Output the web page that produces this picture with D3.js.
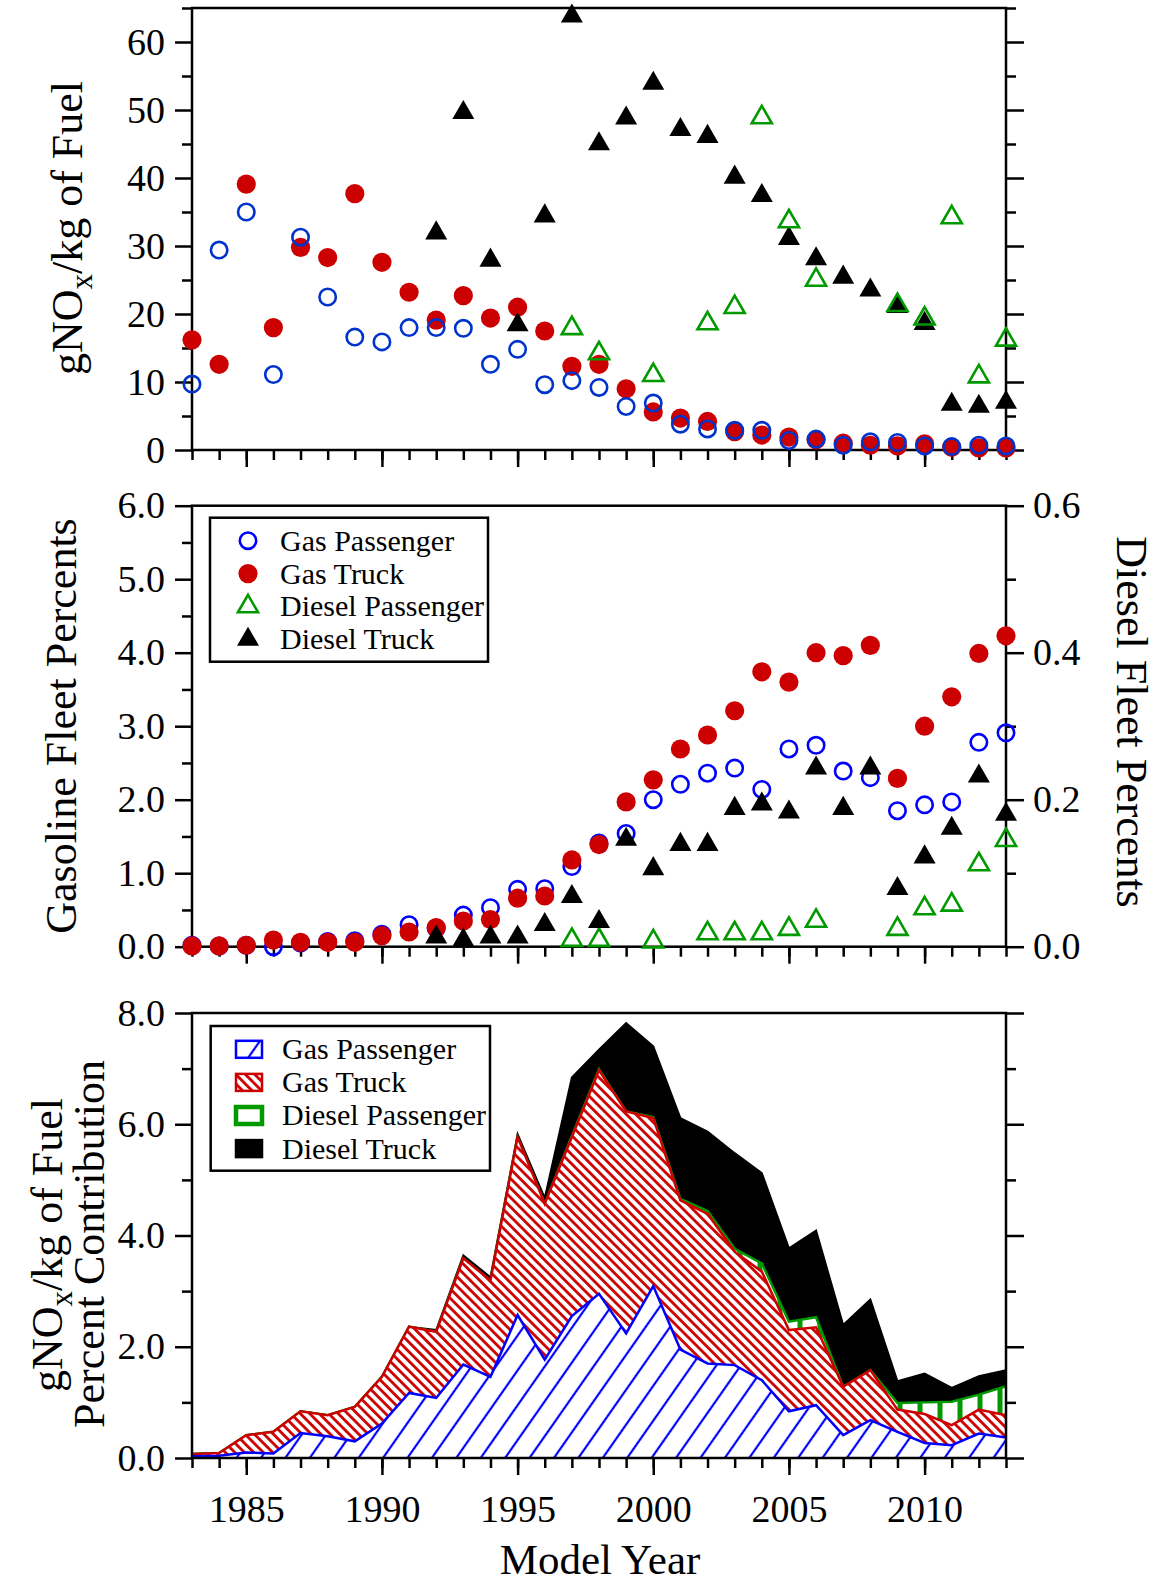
<!DOCTYPE html>
<html>
<head>
<meta charset="utf-8">
<script src="https://cdn.jsdelivr.net/npm/d3@7"></script>
<style>
  body { margin: 0; background: #fff; }
  svg { display: block; }
  svg text { font-family: 'Liberation Serif', 'Times New Roman', Times, serif; }
</style>
</head>
<body>
<svg id="chart" width="1159" height="1585"></svg>
<script>
// ---- data ---------------------------------------------------------------
const years = [1983,1984,1985,1986,1987,1988,1989,1990,1991,1992,1993,1994,1995,1996,1997,1998,
               1999,2000,2001,2002,2003,2004,2005,2006,2007,2008,2009,2010,2011,2012,2013];
const labelYears = [1985,1990,1995,2000,2005,2010];

// emission factors, gNOx per kg of fuel
const gasPassNOx   = [9.7,29.4,35.0,11.1,31.3,22.5,16.6,15.9,18.0,18.0,17.9,12.6,14.8,9.6,10.2,9.2,
                      6.4,6.9,3.8,3.1,2.9,2.9,1.4,1.6,0.7,1.2,1.1,0.6,0.5,0.7,0.6];
const gasTruckNOx  = [16.2,12.6,39.1,18.0,29.8,28.3,37.7,27.6,23.2,19.1,22.7,19.4,21.0,17.5,12.3,12.6,
                      9.0,5.6,4.7,4.2,2.7,2.2,1.9,1.5,1.0,0.7,0.6,0.9,0.4,0.3,0.3];
const dieselPassNOx  = [null,null,null,null,null,null,null,null,null,null,null,null,null,null,
                        17.9,14.2,null,11.0,null,18.6,21.0,48.9,33.6,25.0,null,null,21.3,19.3,34.2,10.8,16.2];
const dieselTruckNOx = [null,null,null,null,null,null,null,null,null,
                        31.9,49.6,27.9,18.4,34.4,63.8,45.0,48.8,53.9,47.1,46.1,40.1,37.4,31.1,28.1,
                        25.4,23.5,21.1,18.6,6.7,6.4,7.0];

// fleet percents (gasoline on left axis, diesel on right axis)
const gasPassFleet  = [0.02,0.01,0.02,0.00,0.05,0.07,0.08,0.17,0.30,0.25,0.43,0.53,0.78,0.79,1.09,1.41,
                       1.54,2.00,2.21,2.36,2.43,2.14,2.69,2.74,2.39,2.30,1.85,1.93,1.97,2.78,2.91];
const gasTruckFleet = [0.01,0.01,0.02,0.09,0.06,0.06,0.06,0.15,0.20,0.26,0.35,0.37,0.66,0.69,1.18,1.39,
                       1.97,2.27,2.69,2.88,3.21,3.74,3.60,4.00,3.96,4.10,2.29,3.00,3.40,3.99,4.23];
const dieselPassFleet  = [null,null,null,null,null,null,null,null,null,null,null,null,null,null,
                          0.009,0.009,null,0.007,null,0.018,0.018,0.018,0.024,0.035,null,null,
                          0.024,0.052,0.057,0.112,0.145];
const dieselTruckFleet = [null,null,null,null,null,null,null,null,null,
                          0.013,0.009,0.013,0.013,0.030,0.068,0.034,0.146,0.106,0.139,0.139,0.188,
                          0.194,0.183,0.243,0.188,0.243,0.079,0.122,0.161,0.232,0.180];

// percent contribution to gNOx/kg of fuel, one layer per class
const gasPassPct    = [0.03,0.04,0.10,0.08,0.45,0.39,0.30,0.62,1.17,1.08,1.68,1.46,2.57,1.77,2.55,2.95,
                       2.24,3.09,1.95,1.70,1.67,1.40,0.84,0.95,0.41,0.68,0.47,0.27,0.23,0.44,0.37];
const gasTruckPct   = [0.04,0.05,0.31,0.39,0.39,0.38,0.62,0.84,1.19,1.19,1.91,1.73,3.20,2.80,3.22,4.02,
                       3.99,3.02,2.68,2.69,2.04,1.95,1.46,1.40,0.87,0.90,0.40,0.52,0.36,0.43,0.40];
const dieselPassPct = [0,0,0,0,0,0,0,0,0,0,0,0,0,0,0.02,0.02,
                       0,0.02,0.03,0.05,0.05,0.15,0.15,0.18,0,0,0.12,0.21,0.42,0.27,0.52];
const dieselTruckPct= [0,0,0,0,0,0,0,0,0,0.03,0.05,0.06,0.05,0.10,1.05,0.35,
                       1.59,1.27,1.45,1.43,1.72,1.62,1.32,1.56,1.11,1.27,0.39,0.52,0.25,0.33,0.29];

const nameGP = "Gas Passenger", nameGT = "Gas Truck",
      nameDP = "Diesel Passenger", nameDT = "Diesel Truck";

const topTicks   = [0,10,20,30,40,50,60];
const topMinor   = [5,15,25,35,45,55,65];
const midTicks   = [0,1,2,3,4,5,6];
const midMinor   = [0.5,1.5,2.5,3.5,4.5,5.5];
const rightTicks = [0,0.2,0.4,0.6];
const rightMinor = [0.1,0.3,0.5];
const botTicks   = [0,2,4,6,8];
const botMinor   = [1,3,5,7];

// ---- layout -------------------------------------------------------------
const FONT = "'Liberation Serif', 'Times New Roman', Times, serif";
const svg = d3.select("#chart");
const L = 192, R = 1006;
const P1 = {top: 8, bottom: 450};
const P2 = {top: 505.7, bottom: 946.7};
const P3 = {top: 1013, bottom: 1458};

const BLUE1 = "#0033cc", BLUE = "#0000ff", RED = "#cc0000", GREEN = "#009900";

const x = d3.scaleLinear().domain([1983, 2013]).range([L, R]);
const y1 = d3.scaleLinear().domain([0, 65]).range([P1.bottom, P1.top]);
const y2 = d3.scaleLinear().domain([0, 6]).range([P2.bottom, P2.top]);
const y2r = d3.scaleLinear().domain([0, 0.6]).range([P2.bottom, P2.top]);
const y3 = d3.scaleLinear().domain([0, 8]).range([P3.bottom, P3.top]);

// ---- patterns -----------------------------------------------------------
const defs = svg.append("defs");
function stripePattern(id, period, angle, color, width) {
  const p = defs.append("pattern").attr("id", id)
    .attr("patternUnits", "userSpaceOnUse")
    .attr("width", period).attr("height", period)
    .attr("patternTransform", `rotate(${angle})`);
  p.append("rect").attr("width", period).attr("height", period).attr("fill", "#fff");
  p.append("line").attr("x1", period / 2).attr("x2", period / 2)
    .attr("y1", -1).attr("y2", period + 1)
    .attr("stroke", color).attr("stroke-width", width);
}
stripePattern("hatchGP", 20, 35, BLUE, 2.2);
stripePattern("hatchGT", 6.7, -45, RED, 2.8);
{
  const p = defs.append("pattern").attr("id", "hatchDP")
    .attr("patternUnits", "userSpaceOnUse").attr("width", 20).attr("height", 20);
  p.append("rect").attr("width", 20).attr("height", 20).attr("fill", "#fff");
  p.append("rect").attr("x", 0).attr("width", 2.5).attr("height", 20).attr("fill", GREEN);
  p.append("rect").attr("x", 17.5).attr("width", 2.5).attr("height", 20).attr("fill", GREEN);
}

// ---- axes helpers -------------------------------------------------------
function styleAxis(g, size) {
  g.attr("font-family", FONT).attr("font-size", size);
  g.select(".domain").remove();
  g.selectAll(".tick line").attr("stroke", "#000").attr("stroke-width", 2.5);
  g.selectAll(".tick text").attr("fill", "#000");
  return g;
}
function xAxis(yPos, withLabels) {
  svg.append("g").attr("transform", `translate(0,${yPos})`)
    .call(d3.axisBottom(x).tickValues(years).tickSize(10).tickFormat(""))
    .call(g => styleAxis(g, 38));
  svg.append("g").attr("transform", `translate(0,${yPos})`)
    .call(d3.axisBottom(x).tickValues(labelYears).tickSize(17).tickPadding(20)
      .tickFormat(withLabels ? d3.format("d") : ""))
    .call(g => styleAxis(g, 38));
}
function yAxis(scale, majors, minors, fmt, side) {
  const ax = side === "left" ? d3.axisLeft : d3.axisRight;
  const xPos = side === "left" ? L : R;
  svg.append("g").attr("transform", `translate(${xPos},0)`)
    .call(ax(scale).tickValues(minors).tickSize(10).tickFormat(""))
    .call(g => styleAxis(g, 38));
  svg.append("g").attr("transform", `translate(${xPos},0)`)
    .call(ax(scale).tickValues(majors).tickSize(side === "left" ? 17 : 18)
      .tickPadding(side === "left" ? 10 : 9).tickFormat(fmt ? fmt : ""))
    .call(g => styleAxis(g, 38));
}
function frame(p) {
  svg.append("rect").attr("x", L).attr("y", p.top)
    .attr("width", R - L).attr("height", p.bottom - p.top)
    .attr("fill", "none").attr("stroke", "#000").attr("stroke-width", 2.5);
}

// ---- marker helpers -----------------------------------------------------
const tri = d3.symbol(d3.symbolTriangle, 210);
const triOpen = d3.symbol(d3.symbolTriangle, 175);
function drawSeries(g, vals, scale, kind, color) {
  const pts = years.map((yr, i) => ({yr, v: vals[i]})).filter(d => d.v !== null);
  const sel = g.append("g");
  if (kind === "openCircle") {
    sel.selectAll("circle").data(pts).join("circle")
      .attr("cx", d => x(d.yr)).attr("cy", d => scale(d.v)).attr("r", 8.2)
      .attr("fill", "none").attr("stroke", color).attr("stroke-width", 2.6);
  } else if (kind === "dot") {
    sel.selectAll("circle").data(pts).join("circle")
      .attr("cx", d => x(d.yr)).attr("cy", d => scale(d.v)).attr("r", 9.6)
      .attr("fill", color);
  } else if (kind === "openTri") {
    sel.selectAll("path").data(pts).join("path")
      .attr("transform", d => `translate(${x(d.yr)},${scale(d.v)})`)
      .attr("d", triOpen).attr("fill", "none").attr("stroke", color).attr("stroke-width", 2.6);
  } else {
    sel.selectAll("path").data(pts).join("path")
      .attr("transform", d => `translate(${x(d.yr)},${scale(d.v)})`)
      .attr("d", tri).attr("fill", color);
  }
}
function markerAt(g, kind, color, cx, cy) {
  if (kind === "openCircle") g.append("circle").attr("cx", cx).attr("cy", cy).attr("r", 8.2)
    .attr("fill", "none").attr("stroke", color).attr("stroke-width", 2.6);
  else if (kind === "dot") g.append("circle").attr("cx", cx).attr("cy", cy).attr("r", 9.6).attr("fill", color);
  else if (kind === "openTri") g.append("path").attr("transform", `translate(${cx},${cy})`)
    .attr("d", triOpen).attr("fill", "none").attr("stroke", color).attr("stroke-width", 2.6);
  else g.append("path").attr("transform", `translate(${cx},${cy})`).attr("d", tri).attr("fill", color);
}

// ---- panel 1: emission factors -----------------------------------------
frame(P1);
xAxis(P1.bottom, false);
yAxis(y1, topTicks, topMinor, d3.format("d"), "left");
yAxis(y1, topTicks, topMinor, null, "right");
const g1 = svg.append("g");
drawSeries(g1, gasTruckNOx, y1, "dot", RED);
drawSeries(g1, gasPassNOx, y1, "openCircle", BLUE1);
drawSeries(g1, dieselTruckNOx, y1, "tri", "#000");
drawSeries(g1, dieselPassNOx, y1, "openTri", GREEN);

// ---- panel 2: fleet percents -------------------------------------------
frame(P2);
xAxis(P2.bottom, false);
yAxis(y2, midTicks, midMinor, d3.format(".1f"), "left");
yAxis(y2r, rightTicks, rightMinor, d3.format(".1f"), "right");
const g2 = svg.append("g");
drawSeries(g2, gasPassFleet, y2, "openCircle", BLUE);
drawSeries(g2, gasTruckFleet, y2, "dot", RED);
drawSeries(g2, dieselPassFleet, y2r, "openTri", GREEN);
drawSeries(g2, dieselTruckFleet, y2r, "tri", "#000");

// legend for the marker panels
{
  const lg = svg.append("g");
  lg.append("rect").attr("x", 210).attr("y", 517.7).attr("width", 278).attr("height", 144)
    .attr("fill", "#fff").attr("stroke", "#000").attr("stroke-width", 2.5);
  const items = [[nameGP, "openCircle", BLUE], [nameGT, "dot", RED],
                 [nameDP, "openTri", GREEN], [nameDT, "tri", "#000"]];
  items.forEach(([name, kind, color], i) => {
    const cy = 540.7 + i * 32.9;
    markerAt(lg, kind, color, 248, cy);
    lg.append("text").attr("x", 280).attr("y", cy).attr("dy", "0.33em")
      .attr("font-size", 30).text(name);
  });
}

// ---- panel 3: stacked contribution -------------------------------------
const table = years.map((yr, i) => ({
  year: yr, gp: gasPassPct[i], gt: gasTruckPct[i], dp: dieselPassPct[i], dt: dieselTruckPct[i]
}));
const stacked = d3.stack().keys(["gp", "gt", "dp", "dt"])(table);
const layerStyle = {
  gp: {fill: "url(#hatchGP)", stroke: BLUE, w: 2.5},
  gt: {fill: "url(#hatchGT)", stroke: RED, w: 2.5},
  dp: {fill: "url(#hatchDP)", stroke: GREEN, w: 2.5},
  dt: {fill: "#000", stroke: "#000", w: 2}
};
const area = d3.area().x(d => x(d.data.year)).y0(d => y3(d[0])).y1(d => y3(d[1]));
const topLine = d3.line().x(d => x(d.data.year)).y(d => y3(d[1]));
const g3 = svg.append("g");
stacked.slice().reverse().forEach(s => {
  const st = layerStyle[s.key];
  g3.append("path").datum(s).attr("d", area).attr("fill", st.fill);
  g3.append("path").datum(s).attr("d", topLine).attr("fill", "none")
    .attr("stroke", st.stroke).attr("stroke-width", st.w).attr("stroke-linejoin", "miter");
});
frame(P3);
xAxis(P3.bottom, true);
yAxis(y3, botTicks, botMinor, d3.format(".1f"), "left");
yAxis(y3, botTicks, botMinor, null, "right");

// legend for the stacked panel
{
  const lg = svg.append("g");
  lg.append("rect").attr("x", 210.7).attr("y", 1026).attr("width", 279.3).attr("height", 144.7)
    .attr("fill", "#fff").attr("stroke", "#000").attr("stroke-width", 2.5);
  const items = [
    [nameGP, "url(#hatchGP)", BLUE, 2.5],
    [nameGT, "url(#hatchGT)", RED, 2.5],
    [nameDP, "#fff", GREEN, 4.5],
    [nameDT, "#000", "#000", 2.5]
  ];
  items.forEach(([name, fill, stroke, w], i) => {
    const cy = 1049.3 + i * 33.1;
    lg.append("rect").attr("x", 236).attr("y", cy - 8.5).attr("width", 26).attr("height", 17)
      .attr("fill", fill).attr("stroke", stroke).attr("stroke-width", w);
    lg.append("text").attr("x", 282).attr("y", cy).attr("dy", "0.33em")
      .attr("font-size", 30).text(name);
  });
}

// ---- axis titles --------------------------------------------------------
function noxTitle(xBase, yMid) {
  const t = svg.append("text").attr("transform", `translate(${xBase},${yMid}) rotate(-90)`)
    .attr("text-anchor", "middle").attr("font-size", 44);
  t.append("tspan").text("gNO");
  t.append("tspan").attr("font-size", 31).attr("dy", 10).text("x");
  t.append("tspan").attr("dy", -10).text("/kg of Fuel");
  return t;
}
noxTitle(82, 228);
svg.append("text").attr("transform", "translate(76,726) rotate(-90)")
  .attr("text-anchor", "middle").attr("font-size", 44).text("Gasoline Fleet Percents");
svg.append("text").attr("transform", "translate(1117,722) rotate(90)")
  .attr("text-anchor", "middle").attr("font-size", 44).text("Diesel Fleet Percents");
noxTitle(62, 1245);
svg.append("text").attr("transform", "translate(104,1244) rotate(-90)")
  .attr("text-anchor", "middle").attr("font-size", 44).text("Percent Contribution");
svg.append("text").attr("x", 600).attr("y", 1574)
  .attr("text-anchor", "middle").attr("font-size", 43).text("Model Year");
</script>
</body>
</html>
